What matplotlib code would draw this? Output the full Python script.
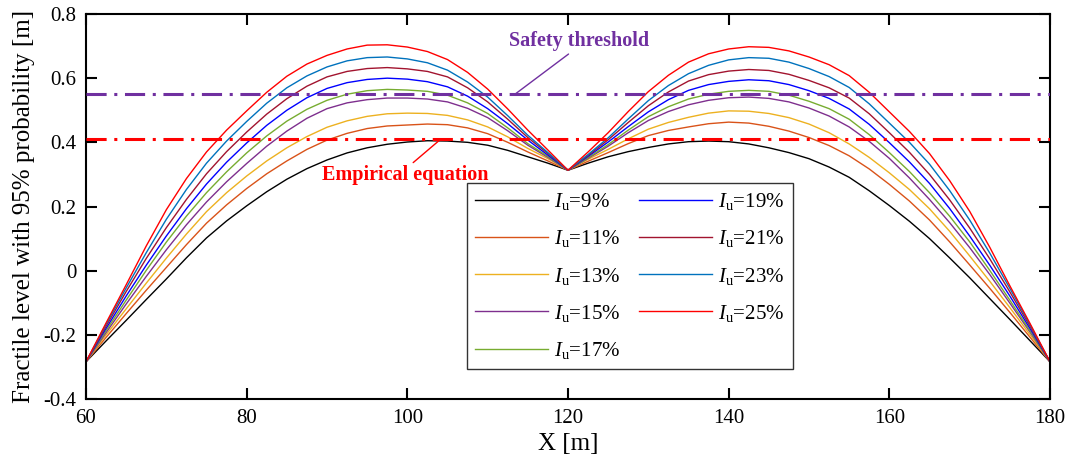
import matplotlib
matplotlib.use("Agg")
import matplotlib.pyplot as plt

plt.rcParams["font.family"] = ["Liberation Serif", "DejaVu Serif"]
plt.rcParams["mathtext.fontset"] = "custom"
plt.rcParams["mathtext.rm"] = "Liberation Serif"
plt.rcParams["mathtext.it"] = "Liberation Serif:italic"
plt.rcParams["axes.unicode_minus"] = False
plt.rcParams["lines.scale_dashes"] = False

# Position along the span [m], sampled every 2.5 m
x_pos = [60 + 2.5 * i for i in range(49)]

# Turbulence intensities and the 95% fractile level for each [m]
intensities = [9, 11, 13, 15, 17, 19, 21, 23, 25]

level_09 = [-0.284, -0.219, -0.155, -0.090, -0.026, 0.040, 0.102, 0.155, 0.202, 0.246, 0.285, 0.318,
            0.345, 0.367, 0.383, 0.394, 0.401, 0.405, 0.404, 0.400, 0.391, 0.375, 0.355, 0.335, 0.313,
            0.335, 0.355, 0.371, 0.384, 0.395, 0.402, 0.404, 0.402, 0.395, 0.383, 0.368, 0.349, 0.323,
            0.291, 0.249, 0.203, 0.154, 0.100, 0.040, -0.022, -0.087, -0.152, -0.218, -0.284]
level_11 = [-0.284, -0.208, -0.134, -0.061, 0.010, 0.081, 0.148, 0.205, 0.256, 0.302, 0.342, 0.378,
            0.407, 0.428, 0.443, 0.451, 0.454, 0.457, 0.455, 0.445, 0.427, 0.400, 0.370, 0.342, 0.313,
            0.341, 0.368, 0.396, 0.421, 0.437, 0.448, 0.458, 0.463, 0.460, 0.450, 0.435, 0.415, 0.390,
            0.358, 0.317, 0.269, 0.217, 0.158, 0.090, 0.018, -0.055, -0.130, -0.207, -0.284]
level_13 = [-0.284, -0.200, -0.119, -0.039, 0.039, 0.114, 0.184, 0.243, 0.295, 0.342, 0.383, 0.418,
            0.447, 0.467, 0.481, 0.489, 0.491, 0.490, 0.484, 0.470, 0.448, 0.417, 0.381, 0.349, 0.313,
            0.347, 0.378, 0.411, 0.441, 0.462, 0.478, 0.491, 0.498, 0.497, 0.490, 0.477, 0.457, 0.430,
            0.395, 0.353, 0.305, 0.253, 0.193, 0.123, 0.046, -0.033, -0.115, -0.199, -0.284]
level_15 = [-0.284, -0.193, -0.104, -0.018, 0.065, 0.143, 0.214, 0.277, 0.334, 0.388, 0.435, 0.475,
            0.505, 0.523, 0.533, 0.538, 0.538, 0.535, 0.526, 0.506, 0.477, 0.436, 0.391, 0.353, 0.313,
            0.350, 0.388, 0.430, 0.468, 0.496, 0.517, 0.531, 0.539, 0.541, 0.537, 0.526, 0.507, 0.482,
            0.448, 0.403, 0.350, 0.289, 0.222, 0.150, 0.072, -0.012, -0.101, -0.191, -0.284]
level_17 = [-0.284, -0.187, -0.092, 0.001, 0.089, 0.170, 0.243, 0.308, 0.367, 0.420, 0.466, 0.503,
            0.531, 0.550, 0.561, 0.565, 0.563, 0.559, 0.547, 0.523, 0.490, 0.445, 0.396, 0.356, 0.313,
            0.352, 0.393, 0.438, 0.480, 0.511, 0.535, 0.550, 0.559, 0.562, 0.559, 0.547, 0.528, 0.505,
            0.472, 0.424, 0.368, 0.309, 0.243, 0.170, 0.090, 0.001, -0.092, -0.187, -0.284]
level_19 = [-0.284, -0.180, -0.079, 0.017, 0.108, 0.193, 0.270, 0.338, 0.398, 0.453, 0.500, 0.539,
            0.568, 0.586, 0.596, 0.600, 0.597, 0.589, 0.573, 0.544, 0.505, 0.458, 0.407, 0.360, 0.313,
            0.356, 0.401, 0.449, 0.495, 0.533, 0.562, 0.580, 0.590, 0.595, 0.592, 0.580, 0.561, 0.537,
            0.504, 0.456, 0.399, 0.339, 0.272, 0.194, 0.108, 0.017, -0.079, -0.180, -0.284]
level_21 = [-0.284, -0.173, -0.065, 0.038, 0.134, 0.222, 0.302, 0.371, 0.432, 0.488, 0.536, 0.575,
            0.604, 0.621, 0.630, 0.633, 0.629, 0.621, 0.604, 0.570, 0.526, 0.472, 0.415, 0.365, 0.313,
            0.359, 0.408, 0.462, 0.514, 0.557, 0.591, 0.611, 0.622, 0.627, 0.624, 0.612, 0.593, 0.570,
            0.538, 0.489, 0.430, 0.369, 0.300, 0.221, 0.133, 0.037, -0.066, -0.173, -0.284]
level_23 = [-0.284, -0.167, -0.054, 0.056, 0.160, 0.253, 0.335, 0.404, 0.465, 0.522, 0.570, 0.607,
            0.635, 0.654, 0.664, 0.666, 0.660, 0.648, 0.625, 0.588, 0.541, 0.483, 0.422, 0.368, 0.313,
            0.362, 0.414, 0.473, 0.530, 0.577, 0.614, 0.640, 0.657, 0.664, 0.662, 0.650, 0.630, 0.605,
            0.571, 0.520, 0.460, 0.400, 0.332, 0.250, 0.158, 0.055, -0.055, -0.168, -0.284]
level_25 = [-0.284, -0.163, -0.044, 0.077, 0.190, 0.287, 0.370, 0.438, 0.498, 0.556, 0.606, 0.644,
            0.671, 0.691, 0.703, 0.704, 0.697, 0.683, 0.658, 0.618, 0.566, 0.504, 0.438, 0.376, 0.313,
            0.370, 0.430, 0.496, 0.558, 0.609, 0.650, 0.676, 0.691, 0.698, 0.696, 0.685, 0.666, 0.642,
            0.608, 0.556, 0.495, 0.434, 0.365, 0.281, 0.185, 0.073, -0.047, -0.164, -0.284]

levels = [level_09, level_11, level_13, level_15, level_17,
          level_19, level_21, level_23, level_25]
colors = ["#000000", "#D95319", "#EDB120", "#7E2F8E", "#77AC30",
          "#0000FF", "#A2142F", "#0072BD", "#FF0000"]

safety_threshold = 0.55
empirical_value = 0.41

x_ticks = [60, 80, 100, 120, 140, 160, 180]
y_ticks = [-0.4, -0.2, 0, 0.2, 0.4, 0.6, 0.8]
y_tick_labels = ["-0.4", "-0.2", "0", "0.2", "0.4", "0.6", "0.8"]

fig = plt.figure(figsize=(10.74, 4.68), dpi=100)
ax = fig.add_axes([86 / 1074, 69 / 468, 964 / 1074, 385 / 468])

for vals, col, iu in zip(levels, colors, intensities):
    ax.plot(x_pos, vals, color=col, lw=1.0, solid_joinstyle="round",
            label=r"$I_{\mathrm{u}}$=" + f"{iu}%")

dash_dot = (0, (14.5, 5.5, 2.2, 5.5))
ax.plot([x_pos[0], x_pos[-1]], [safety_threshold, safety_threshold],
        color="#7030A0", lw=2.2, linestyle=dash_dot, zorder=3)
ax.plot([x_pos[0], x_pos[-1]], [empirical_value, empirical_value],
        color="#FF0000", lw=2.2, linestyle=dash_dot, zorder=3)

# Callout labels for the two reference lines
ax.annotate("Safety threshold", xy=(113.4, safety_threshold), xytext=(121.4, 0.715),
            ha="center", va="center", fontsize=14.5, fontweight="bold", color="#7030A0",
            arrowprops=dict(arrowstyle="-", color="#7030A0", lw=1.0,
                            shrinkA=0, shrinkB=0, relpos=(0.45, 0.0)))
ax.annotate("Empirical equation", xy=(104.0, 0.4065), xytext=(99.7, 0.297),
            ha="center", va="center", fontsize=14.5, fontweight="bold", color="#FF0000",
            arrowprops=dict(arrowstyle="-", color="#FF0000", lw=1.0,
                            shrinkA=0, shrinkB=0, relpos=(0.53, 1.0)))

ax.set_xlim(60, 180)
ax.set_ylim(-0.4, 0.8)
ax.set_xticks(x_ticks)
ax.set_yticks(y_ticks)
ax.set_yticklabels(y_tick_labels)
ax.tick_params(direction="in", length=8, width=1.5, labelsize=15,
               top=True, right=True, pad=7)
for sp in ax.spines.values():
    sp.set_linewidth(1.5)

ax.set_xlabel("X [m]", fontsize=18, labelpad=4)
ax.set_ylabel("Fractile level with 95% probability [m]", fontsize=18, labelpad=6)

leg = ax.legend(loc="upper left", bbox_to_anchor=(466.7 / 1074, 1 - 182.7 / 468),
                bbox_transform=fig.transFigure, ncol=2, fontsize=15,
                handlelength=3.5, handletextpad=0.3, columnspacing=0.9,
                labelspacing=0.78, borderpad=0.4, borderaxespad=0,
                frameon=True, fancybox=False)
leg.get_frame().set_edgecolor("#000000")
leg.get_frame().set_linewidth(1.0)

fig.savefig("out.png", dpi=100)
